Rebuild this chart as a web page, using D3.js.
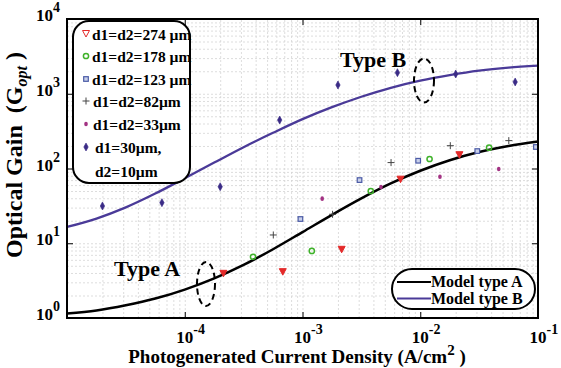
<!DOCTYPE html>
<html><head><meta charset="utf-8">
<script src="https://cdn.jsdelivr.net/npm/d3@7"></script>
<style>
body{margin:0;background:#fff}
svg{display:block}
text{font-family:"Liberation Serif","Times New Roman",serif;font-weight:bold;fill:#000}
</style>
</head><body><svg id="c" width="561" height="368"></svg>
<script>
// ---- data ----
const xTicks=[1e-4,1e-3,1e-2,1e-1];
const xTickBase=["10","10","10","10"];
const xTickExp=["-4","-3","-2","-1"];
const yTicks=[1,10,100,1000,10000];
const yTickBase=["10","10","10","10","10"];
const yTickExp=["0","1","2","3","4"];

const legendLabels=["d1=d2=274 µm","d1=d2=178 µm","d1=d2=123 µm","d1=d2=82µm","d1=d2=33µm","d1=30µm,","d2=10µm"];
const modelLabels=["Model type A","Model type B"];

const s274x=[2.13e-4,6.8e-4,2.15e-3,6.8e-3,2.15e-2];
const s274y=[3.96,4.17,8.3,72,153];
const s178x=[3.8e-4,1.2e-3,3.8e-3,1.2e-2,3.84e-2];
const s178y=[6.6,7.9,50,134,190];
const s123x=[9.6e-4,3.05e-3,9.6e-3,3.05e-2,9.6e-2];
const s123y=[21.1,70,127,171,194];
const s82x=[5.65e-4,1.8e-3,5.65e-3,1.8e-2,5.65e-2];
const s82y=[12.9,24.4,120,202,236];
const s33x=[1.47e-3,4.64e-3,1.47e-2,4.64e-2];
const s33y=[39.5,56.5,77.7,98.5];
const s30x=[2.0e-5,6.4e-5,2.0e-4,6.4e-4,2.0e-3,6.4e-3,2.0e-2,6.4e-2];
const s30y=[31.5,34.9,57,445,1309,1914,1837,1437];

const modelX=[1e-5,1.78e-5,3.16e-5,5.62e-5,1e-4,1.78e-4,3.16e-4,5.62e-4,1e-3,1.78e-3,3.16e-3,5.62e-3,1e-2,1.78e-2,3.16e-2,5.62e-2,1e-1];
const modelAy=[1.15,1.26,1.48,1.82,2.40,3.39,5.13,8.32,14.1,24.0,39.8,63.1,93.3,129,166,200,229];
const modelBy=[16.5,21.4,30.2,46.2,74.1,120,193,300,457,661,912,1202,1496,1778,2042,2239,2371];

// annotation anchors (data coordinates)
const typeAPos=[1.515e-4,2.85];
const typeBPos=[1.076e-2,1504];

// ---- layout ----
const L=67,R=538,T=19,B=318;
const svg=d3.select("#c");
const x=d3.scaleLog().domain([1e-5,1e-1]).range([L,R]);
const y=d3.scaleLog().domain([1,1e4]).range([B,T]);

const colA="#000", colB="#4a3a98";
const cRed="#e42a2a", cGreen="#3fb22a", cBlue="#4b5ba6", cPlus="#444", cMag="#a33283", cDia="#3a2b86";

// minor values
const minorX=[],minorY=[];
for(let d=-5;d<-1;d++)for(let m=1;m<10;m++)minorX.push(m*Math.pow(10,d));
minorX.push(1e-1);
for(let d=0;d<4;d++)for(let m=1;m<10;m++)minorY.push(m*Math.pow(10,d));
minorY.push(1e4);

// grid
const grid=svg.append("g");
function gridStyle(g){g.select(".domain").remove();g.selectAll("line").attr("stroke","#d4d4d4").attr("stroke-dasharray","2,2").attr("stroke-width",0.8);}
grid.append("g").attr("transform",`translate(0,${B})`)
 .call(d3.axisBottom(x).tickValues(minorX).tickSize(-(B-T)).tickFormat("")).call(gridStyle);
grid.append("g").attr("transform",`translate(${L},0)`)
 .call(d3.axisLeft(y).tickValues(minorY).tickSize(-(R-L)).tickFormat("")).call(gridStyle);

// tick marks (inward) on all four sides
function tickStyle(g){g.select(".domain").remove();g.selectAll("line").attr("stroke","#000").attr("stroke-width",1);}
svg.append("g").attr("transform",`translate(0,${B})`).call(d3.axisBottom(x).tickValues(xTicks).tickSize(-6).tickFormat("")).call(tickStyle);
svg.append("g").attr("transform",`translate(0,${T})`).call(d3.axisTop(x).tickValues(xTicks).tickSize(-6).tickFormat("")).call(tickStyle);
svg.append("g").attr("transform",`translate(${L},0)`).call(d3.axisLeft(y).tickValues(yTicks).tickSize(-6).tickFormat("")).call(tickStyle);
svg.append("g").attr("transform",`translate(${R},0)`).call(d3.axisRight(y).tickValues(yTicks).tickSize(-6).tickFormat("")).call(tickStyle);

// tick labels
xTicks.forEach((v,i)=>{
  const t=svg.append("text").attr("x",x(v)-8.5).attr("y",343).attr("font-size",17);
  t.append("tspan").text(xTickBase[i]);
  t.append("tspan").attr("dy",-9).attr("font-size",14).text(xTickExp[i]);
});
yTicks.forEach((v,i)=>{
  const t=svg.append("text").attr("x",60).attr("y",y(v)+2).attr("font-size",17).attr("text-anchor","end");
  t.append("tspan").text(yTickBase[i]);
  t.append("tspan").attr("dy",-9).attr("font-size",14).text(yTickExp[i]);
});

// axis titles
const xl=svg.append("text").attr("x",297).attr("y",363).attr("text-anchor","middle").attr("font-size",19);
xl.append("tspan").text("Photogenerated Current Density (A/cm");
xl.append("tspan").attr("dy",-8).attr("font-size",15).text("2");
xl.append("tspan").attr("dy",8).text(" )");
const yl=svg.append("text").attr("transform","translate(22,155) rotate(-90)").attr("text-anchor","middle").attr("font-size",24);
yl.append("tspan").text("Optical Gain\u00a0 (G");
yl.append("tspan").attr("dy",5).attr("font-size",16).attr("font-style","italic").text("opt");
yl.append("tspan").attr("dy",-5).text("\u00a0)");

// model curves
const line=d3.line().x(d=>x(d[0])).y(d=>y(d[1])).curve(d3.curveMonotoneX);
const plot=svg.append("g");
plot.append("path").attr("d",line(d3.zip(modelX,modelBy))).attr("fill","none").attr("stroke",colB).attr("stroke-width",2.3);
plot.append("path").attr("d",line(d3.zip(modelX,modelAy))).attr("fill","none").attr("stroke",colA).attr("stroke-width",2.5);

// marker shapes
const mk={
 tri:(g,c,open)=>g.append("path").attr("d","M-3.5,-3 L3.5,-3 L0,3.5 Z").attr("fill",open?"#fff":c).attr("stroke",c).attr("stroke-width",1),
 circ:(g,c)=>g.append("circle").attr("r",2.6).attr("fill","none").attr("stroke",c).attr("stroke-width",1.5),
 sq:(g,c)=>g.append("rect").attr("x",-2.3).attr("y",-2.3).attr("width",4.6).attr("height",4.6).attr("fill","#c9d0ea").attr("stroke",c).attr("stroke-width",1.2),
 plus:(g,c)=>g.append("path").attr("d","M-3.5,0 H3.5 M0,-3.5 V3.5").attr("stroke",c).attr("stroke-width",1),
 dot:(g,c)=>g.append("ellipse").attr("rx",1.8).attr("ry",2.3).attr("fill",c),
 dia:(g,c)=>g.append("path").attr("d","M0,-4 L2.2,0 L0,4 L-2.2,0 Z").attr("fill",c).attr("stroke",c).attr("stroke-width",0.6)
};
function scatter(xs,ys,kind,c){
  xs.forEach((v,i)=>{const g=plot.append("g").attr("transform",`translate(${x(v)},${y(ys[i])})`);mk[kind](g,c);});
}
scatter(s274x,s274y,"tri",cRed);
scatter(s178x,s178y,"circ",cGreen);
scatter(s123x,s123y,"sq",cBlue);
scatter(s82x,s82y,"plus",cPlus);
scatter(s33x,s33y,"dot",cMag);
scatter(s30x,s30y,"dia",cDia);

// annotations: Type A / Type B with dashed ellipses
svg.append("text").attr("x",114).attr("y",276).attr("font-size",22).text("Type A");
svg.append("ellipse").attr("cx",x(typeAPos[0])).attr("cy",y(typeAPos[1])).attr("rx",9).attr("ry",22).attr("fill","none").attr("stroke","#000").attr("stroke-width",2).attr("stroke-dasharray","6,4");
svg.append("text").attr("x",340).attr("y",67).attr("font-size",22).text("Type B");
svg.append("ellipse").attr("cx",x(typeBPos[0])).attr("cy",y(typeBPos[1])).attr("rx",10).attr("ry",22).attr("fill","none").attr("stroke","#000").attr("stroke-width",2).attr("stroke-dasharray","6,4");

// frame
svg.append("rect").attr("x",L).attr("y",T).attr("width",R-L).attr("height",B-T).attr("fill","none").attr("stroke","#000").attr("stroke-width",2);

// left legend
const lg=svg.append("g");
lg.append("rect").attr("x",73).attr("y",21).attr("width",117).attr("height",162).attr("rx",16).attr("fill","#fff").attr("stroke","#000").attr("stroke-width",2);
const rowsY=[39.5,62,85,107,130,153,176.5];
const legKinds=["tri","circ","sq","plus","dot","dia"];
const legCols=[cRed,cGreen,cBlue,cPlus,cMag,cDia];
legendLabels.forEach((s,i)=>{
  lg.append("text").attr("x",i<3?92:(i<5?93:95)).attr("y",rowsY[i]).attr("font-size",15.5).text(s);
  if(i<6){const g=lg.append("g").attr("transform",`translate(86,${rowsY[i]-6})`);
    if(legKinds[i]==="tri")mk.tri(g,legCols[i],true);else mk[legKinds[i]](g,legCols[i]);}
});

// right legend
const rg=svg.append("g");
rg.append("rect").attr("x",392).attr("y",269).attr("width",143).attr("height",40).attr("rx",20).attr("fill","#fff").attr("stroke","#000").attr("stroke-width",2);
const mCols=[colA,colB];
modelLabels.forEach((s,i)=>{
  const yy=282+i*16.5;
  rg.append("line").attr("x1",397).attr("x2",431).attr("y1",yy).attr("y2",yy).attr("stroke",mCols[i]).attr("stroke-width",2);
  rg.append("text").attr("x",431).attr("y",yy+5).attr("font-size",16).text(s);
});
</script></body></html>
